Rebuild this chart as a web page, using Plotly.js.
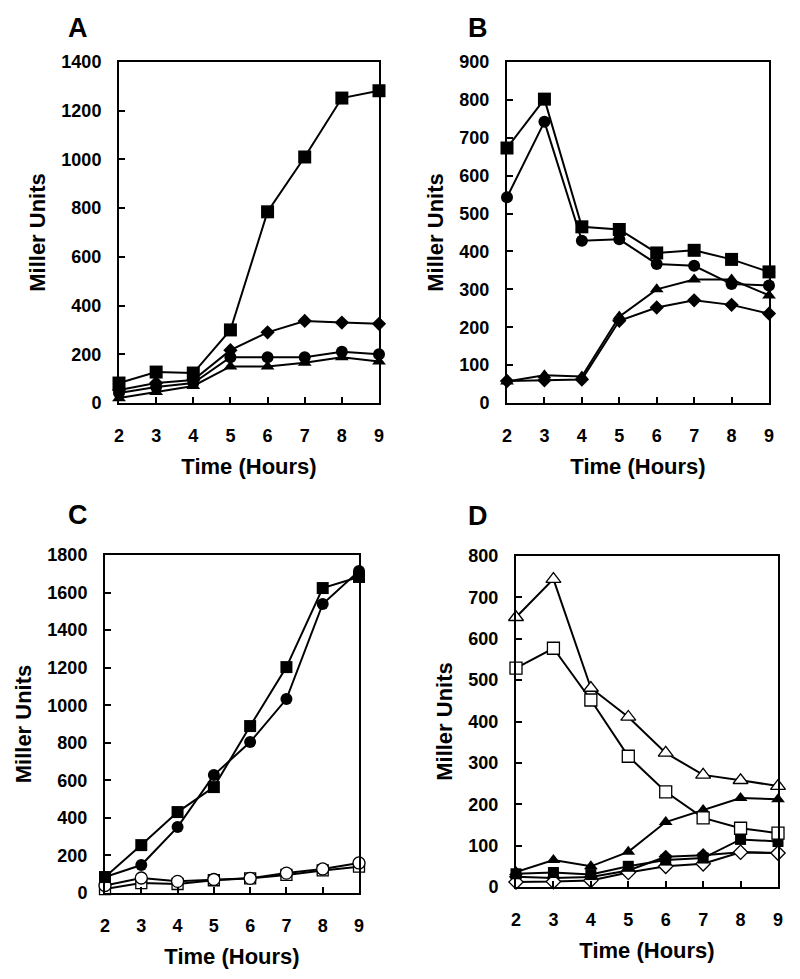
<!DOCTYPE html>
<html>
<head>
<meta charset="utf-8">
<script src="https://cdn.plot.ly/plotly-3.0.1.min.js"></script>
<style>html,body{margin:0;padding:0;background:#fff;}#chart{width:800px;height:979px;}</style>
</head>
<body>
<div id="chart"></div>
<script>
// ---- data ----
const hours = [2, 3, 4, 5, 6, 7, 8, 9];
const xTicks = [2, 3, 4, 5, 6, 7, 8, 9];

// Panel A
const aSquare   = [82, 127, 123, 300, 785, 1010, 1252, 1282];
const aDiamond  = [53, 82, 94, 217, 290, 337, 330, 325];
const aCircle   = [41, 66, 82, 188, 188, 188, 210, 200];
const aTriangle = [20, 45, 70, 150, 150, 165, 188, 170];

// Panel B
const bSquare   = [673, 802, 465, 458, 396, 403, 379, 346];
const bCircle   = [543, 742, 428, 432, 367, 362, 314, 310];
const bTriangle = [57, 73, 70, 228, 300, 326, 326, 284];
const bDiamond  = [58, 60, 62, 217, 252, 271, 259, 236];

// Panel C
const cSquare     = [85, 255, 431, 564, 889, 1203, 1624, 1683];
const cCircle     = [85, 149, 351, 628, 804, 1033, 1539, 1715];
const cOpenSquare = [21, 53, 48, 68, 78, 96, 120, 140];
const cOpenCircle = [40, 80, 62, 72, 78, 106, 128, 160];

// Panel D
const dOpenTriangle = [652, 744, 481, 411, 324, 271, 258, 244];
const dOpenSquare   = [529, 577, 452, 316, 230, 167, 142, 130];
const dTriangle     = [36, 65, 50, 85, 157, 186, 215, 212];
const dSquare       = [32, 35, 30, 50, 65, 70, 115, 110];
const dDiamond      = [25, 22, 24, 40, 73, 77, 84, 82];
const dOpenDiamond  = [12, 13, 16, 35, 50, 56, 84, 82];

const yTitle = 'Miller Units';
const xTitle = 'Time (Hours)';
const panelLetters = ['A', 'B', 'C', 'D'];

// ---- styling helpers ----
const FONT = 'Liberation Sans, Arial, Helvetica, sans-serif';
function tr(y, xa, ya, symbol, size, open) {
  return {
    x: hours, y: y, xaxis: xa, yaxis: ya, type: 'scatter', mode: 'lines+markers',
    cliponaxis: false, showlegend: false, hoverinfo: 'x+y',
    line: {color: '#000', width: 2},
    marker: {symbol: symbol, size: size, color: open ? '#fff' : '#000',
             line: {color: '#000', width: open ? 1.3 : 0}}
  };
}

const data = [
  tr(aTriangle, 'x', 'y', 'triangle-up', 12, false),
  tr(aCircle, 'x', 'y', 'circle', 12, false),
  tr(aDiamond, 'x', 'y', 'diamond', 11, false),
  tr(aSquare, 'x', 'y', 'square', 13, false),

  tr(bDiamond, 'x2', 'y2', 'diamond', 11, false),
  tr(bTriangle, 'x2', 'y2', 'triangle-up', 12, false),
  tr(bCircle, 'x2', 'y2', 'circle', 12, false),
  tr(bSquare, 'x2', 'y2', 'square', 13, false),

  tr(cOpenSquare, 'x3', 'y3', 'square', 11, true),
  tr(cOpenCircle, 'x3', 'y3', 'circle', 12, true),
  tr(cSquare, 'x3', 'y3', 'square', 12, false),
  tr(cCircle, 'x3', 'y3', 'circle', 12, false),

  tr(dDiamond, 'x4', 'y4', 'diamond', 11, false),
  tr(dOpenDiamond, 'x4', 'y4', 'diamond', 11, true),
  tr(dSquare, 'x4', 'y4', 'square', 11, false),
  tr(dTriangle, 'x4', 'y4', 'triangle-up', 12, false),
  tr(dOpenSquare, 'x4', 'y4', 'square', 12, true),
  tr(dOpenTriangle, 'x4', 'y4', 'triangle-up', 13, true)
];

const W = 800, H = 979;
function xd(l, r) { return [l / W, r / W]; }
function yd(t, b) { return [1 - b / H, 1 - t / H]; }

function xAxis(dom, anchor) {
  return {
    domain: dom, anchor: anchor, range: [2, 9], tickvals: xTicks,
    ticks: 'inside', ticklen: 6, tickwidth: 2, tickcolor: '#000',
    showline: true, mirror: true, linecolor: '#000', linewidth: 2,
    showgrid: false, zeroline: false, fixedrange: true,
    ticklabelstandoff: 15,
    tickfont: {family: FONT, size: 18, color: '#000', weight: 'bold'},
    title: {text: xTitle, standoff: 14, font: {family: FONT, size: 22, color: '#000', weight: 'bold'}}
  };
}
function yAxis(dom, anchor, max, dt) {
  return {
    domain: dom, anchor: anchor, range: [0, max], dtick: dt, tick0: 0,
    ticks: 'inside', ticklen: 6, tickwidth: 2, tickcolor: '#000',
    showline: true, mirror: true, linecolor: '#000', linewidth: 2,
    showgrid: false, zeroline: false, fixedrange: true,
    ticklabelstandoff: 12,
    tickfont: {family: FONT, size: 18, color: '#000', weight: 'bold'},
    title: {text: yTitle, standoff: 10, font: {family: FONT, size: 22, color: '#000', weight: 'bold'}}
  };
}

const letterPos = [[78, 28], [478, 28], [78, 515], [478, 516]];
const annotations = panelLetters.map((t, i) => ({
  text: t, xref: 'paper', yref: 'paper', x: letterPos[i][0] / W, y: 1 - letterPos[i][1] / H,
  xanchor: 'center', yanchor: 'middle', showarrow: false,
  font: {family: FONT, size: 27, color: '#000', weight: 'bold'}
}));

const layout = {
  width: W, height: H, margin: {l: 0, r: 0, t: 0, b: 0},
  paper_bgcolor: '#fff', plot_bgcolor: '#fff', showlegend: false,
  xaxis: xAxis(xd(119, 379), 'y'),
  yaxis: yAxis(yd(62, 403), 'x', 1400, 200),
  xaxis2: xAxis(xd(507, 769), 'y2'),
  yaxis2: yAxis(yd(62, 403), 'x2', 900, 100),
  xaxis3: xAxis(xd(105, 359), 'y3'),
  yaxis3: yAxis(yd(555, 893), 'x3', 1800, 200),
  xaxis4: xAxis(xd(516, 778), 'y4'),
  yaxis4: yAxis(yd(556, 887), 'x4', 800, 100),
  annotations: annotations
};

Plotly.newPlot('chart', data, layout, {staticPlot: true, displayModeBar: false});
</script>
</body>
</html>
